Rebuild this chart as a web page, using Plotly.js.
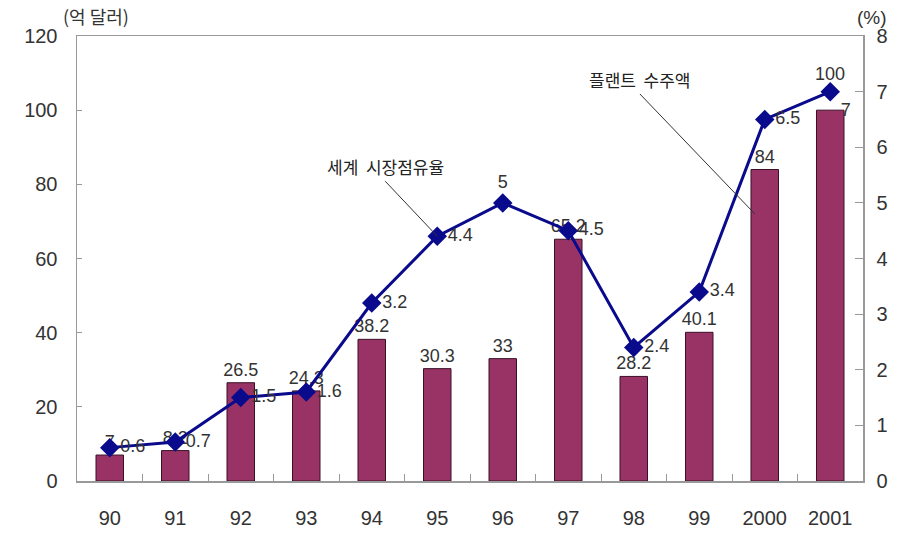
<!DOCTYPE html>
<html><head><meta charset="utf-8">
<script src="https://cdn.plot.ly/plotly-3.0.1.min.js"></script>
<style>html,body{margin:0;padding:0;background:#fff}#chart{width:903px;height:535px}</style>
</head><body><div id="chart"></div>
<script>
const years = ['90','91','92','93','94','95','96','97','98','99','2000','2001'];
const orders = [7, 8.2, 26.5, 24.3, 38.2, 30.3, 33, 65.2, 28.2, 40.1, 84, 100];
const share = [0.6, 0.7, 1.5, 1.6, 3.2, 4.4, 5, 4.5, 2.4, 3.4, 6.5, 7];

const idx = years.map((_, i) => i);
const last = years.length - 1;
const between = years.slice(1).map((_, i) => i + 0.5);
const numFont = {family: 'Liberation Sans, Arial, sans-serif', size: 18, color: '#333'};
const krFont = {family: 'Noto Sans CJK KR, sans-serif', size: 17, color: '#222'};
const tickFont = {family: 'Liberation Sans, Arial, sans-serif', size: 20, color: '#333'};

const shareTextPos = share.map((v, i) => i === last ? 'bottom right' : (i === 6 ? 'top center' : 'middle right'));

const bars = {
  type: 'bar', x: idx, y: orders, yaxis: 'y', width: 0.42,
  marker: {color: '#993366', line: {color: '#3a1025', width: 1}},
  text: orders.map((v, i) => i === last ? '' : String(v)), textposition: 'outside', constraintext: 'none', cliponaxis: false,
  textfont: numFont, hoverinfo: 'none'
};
const line = {
  type: 'scatter', mode: 'lines+markers+text', x: idx, y: share, yaxis: 'y2',
  line: {color: '#0a0a8c', width: 3},
  marker: {symbol: 'diamond', size: 15, color: '#0a0a8c'},
  text: share.map(String), textposition: shareTextPos, cliponaxis: false,
  textfont: numFont, hoverinfo: 'none'
};

const layout = {
  width: 903, height: 535,
  margin: {l: 77, r: 40, t: 36, b: 54},
  paper_bgcolor: '#fff', plot_bgcolor: '#fff',
  showlegend: false,
  font: numFont,
  xaxis: {
    range: [-0.5, years.length - 0.5], tickvals: idx, ticktext: years,
    showline: true, linecolor: '#999', linewidth: 1.5, mirror: true,
    ticks: '', ticklabelstandoff: 18, tickfont: tickFont,
    minor: {tickvals: between, ticks: 'inside', ticklen: 7, tickcolor: '#999', showgrid: false},
    showgrid: false, zeroline: false
  },
  yaxis: {
    range: [0, 120], dtick: 20, showline: true, linecolor: '#999', linewidth: 1.5,
    ticks: 'inside', ticklen: 5, tickcolor: '#999', showgrid: false, zeroline: false,
    ticklabelstandoff: 14, tickfont: tickFont
  },
  yaxis2: {
    range: [0, 8], dtick: 1, overlaying: 'y', side: 'right', showline: true, linecolor: '#999',
    linewidth: 1.5, ticks: 'inside', ticklen: 8, tickcolor: '#999', showgrid: false, zeroline: false,
    ticklabelstandoff: 8, tickfont: tickFont
  },
  annotations: [
    {xref: 'paper', yref: 'paper', x: -0.02, y: 1.0, xanchor: 'left', yanchor: 'bottom', yshift: 5,
     text: '(억 달러)', showarrow: false, font: {family: 'Noto Sans CJK KR, sans-serif', size: 18, color: '#333'}},
    {xref: 'paper', yref: 'paper', x: 1.0, y: 1.0, xanchor: 'left', yanchor: 'bottom', yshift: 6, xshift: -8,
     text: '(%)', showarrow: false, font: {family: 'Liberation Sans, Arial, sans-serif', size: 19, color: '#333'}},
    {x: last, y: orders[last], xref: 'x', yref: 'y', text: String(orders[last]), showarrow: false,
     yanchor: 'bottom', yshift: 24, font: numFont},
    {x: 5, y: share[5], xref: 'x', yref: 'y2', text: '세계  시장점유율', showarrow: true, arrowhead: 0,
     arrowwidth: 1, arrowcolor: '#333', ax: -52, ay: -55, xanchor: 'center', yanchor: 'bottom',
     font: krFont},
    {x: 9.85, y: 72, xref: 'x', yref: 'y', text: '플랜트  수주액', showarrow: true, arrowhead: 0,
     arrowwidth: 1, arrowcolor: '#333', ax: -115, ay: -120, xanchor: 'center', yanchor: 'bottom',
     font: krFont}
  ]
};
Plotly.newPlot('chart', [bars, line], layout, {displayModeBar: false, staticPlot: true});
</script></body></html>
